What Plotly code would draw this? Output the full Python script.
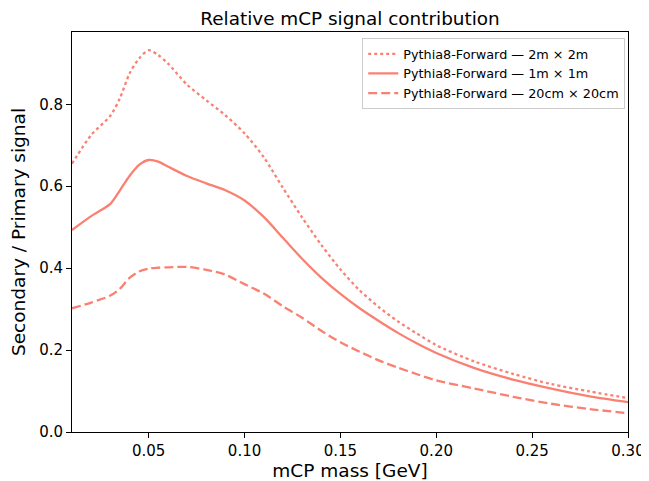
import plotly.graph_objects as go

mass = [0.01, 0.02, 0.03, 0.035, 0.04, 0.045, 0.05, 0.055, 0.06, 0.07, 0.08, 0.09,
        0.10, 0.11, 0.12, 0.13, 0.14, 0.15, 0.16, 0.17, 0.18, 0.19, 0.20, 0.22,
        0.24, 0.26, 0.28, 0.30]

ratio_2m = [0.655, 0.725, 0.772, 0.815, 0.875, 0.912, 0.932, 0.920, 0.900, 0.848, 0.810, 0.773,
            0.729, 0.671, 0.596, 0.524, 0.457, 0.397, 0.346, 0.305, 0.270, 0.240, 0.212, 0.172,
            0.142, 0.117, 0.099, 0.083]

ratio_1m = [0.493, 0.527, 0.557, 0.590, 0.625, 0.652, 0.664, 0.660, 0.648, 0.625, 0.607, 0.590,
            0.565, 0.525, 0.474, 0.423, 0.377, 0.337, 0.302, 0.271, 0.242, 0.216, 0.193, 0.156,
            0.128, 0.106, 0.087, 0.073]

ratio_20cm = [0.302, 0.316, 0.333, 0.350, 0.376, 0.392, 0.399, 0.401, 0.402, 0.403, 0.396, 0.384,
              0.361, 0.338, 0.307, 0.279, 0.247, 0.219, 0.196, 0.175, 0.157, 0.141, 0.126, 0.106,
              0.086, 0.069, 0.056, 0.046]

labels = ["Pythia8-Forward — 2m × 2m",
          "Pythia8-Forward — 1m × 1m",
          "Pythia8-Forward — 20cm × 20cm"]

x_ticks = [0.05, 0.10, 0.15, 0.20, 0.25, 0.30]
y_ticks = [0.0, 0.2, 0.4, 0.6, 0.8]

color = "#FA8072"
font = "DejaVu Sans, Verdana, sans-serif"

fig = go.Figure()
for ys, lab, dash in [(ratio_2m, labels[0], "dot"),
                      (ratio_1m, labels[1], "solid"),
                      (ratio_20cm, labels[2], "9px,4px")]:
    fig.add_trace(go.Scatter(
        x=mass, y=ys, mode="lines", name=lab,
        line=dict(color=color, width=2.3, dash=dash, shape="spline", smoothing=0.8),
    ))

axis_common = dict(
    showline=True, linecolor="black", linewidth=1, mirror=True,
    ticks="outside", ticklen=5, tickwidth=1, tickcolor="black",
    showgrid=False, zeroline=False, automargin=False,
    ticklabeloverflow="allow",
    tickfont=dict(size=15, color="black", family=font),
)

# page body has an 8px default margin, so the figure is sized to fit the 649x481 window
W, H = 641, 473
fig.update_layout(
    width=W, height=H,
    margin=dict(l=64, r=21, t=24, b=49, autoexpand=False),
    paper_bgcolor="white", plot_bgcolor="white",
    font=dict(family=font, color="black"),
    title=dict(text="Relative mCP signal contribution", x=342 / W, xanchor="center",
               y=1 - 11 / H, yanchor="middle", font=dict(size=18.4, family=font, color="black"),
               automargin=False),
    xaxis=dict(range=[0.01, 0.30], tickvals=x_ticks, tickformat=".2f",
               title=dict(text="mCP mass [GeV]", font=dict(size=18.5, family=font), standoff=0),
               **axis_common),
    yaxis=dict(range=[0, 0.9765], tickvals=y_ticks, tickformat=".1f",
               title=dict(text="Secondary / Primary signal", font=dict(size=18.5, family=font), standoff=8),
               **axis_common),
    legend=dict(x=0.995, y=0.985, xanchor="right", yanchor="top",
                bgcolor="rgba(255,255,255,0.8)", bordercolor="#cccccc", borderwidth=1,
                font=dict(size=12.8, family=font, color="black"),
                tracegroupgap=0, itemwidth=30),
    showlegend=True,
)

fig.write_html("out.html")
